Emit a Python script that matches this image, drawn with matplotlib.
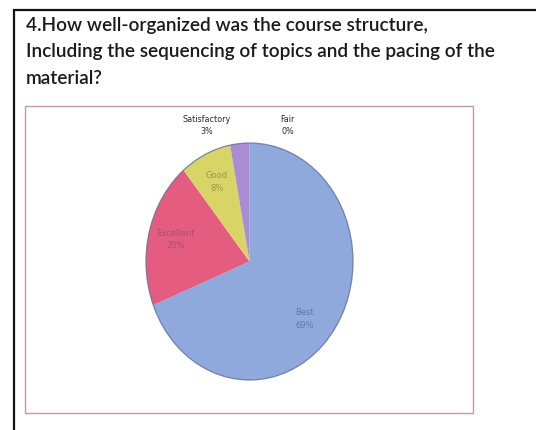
import numpy as np
import matplotlib
matplotlib.use("Agg")
import matplotlib.pyplot as plt
from matplotlib.patches import Rectangle, Ellipse

# Survey responses for question 4
categories = ["Best", "Excellent", "Good", "Satisfactory", "Fair"]
percentages = [69, 20, 8, 3, 0]
colors = ["#8FA9DD", "#E45C80", "#D9D466", "#A98CD4", "#F2C6A0"]

title_lines = [
    "4.How well-organized was the course structure,",
    "Including the sequencing of topics and the pacing of the",
    "material?",
]

W, H = 536, 430
fig = plt.figure(figsize=(W / 100, H / 100), dpi=100)
fig.patch.set_facecolor("white")

def fx(px):
    return px / W

def fy(py):
    return 1 - py / H

# Outer document frame
fig.add_artist(Rectangle((fx(14), fy(440)), fx(540) - fx(14), fy(10) - fy(440),
                         transform=fig.transFigure, fill=False,
                         edgecolor="#111111", linewidth=1.6))

# Question text
for i, line in enumerate(title_lines):
    fig.text(fx(26), fy(25 + i * 26.5), line, ha="left", va="center",
             fontsize=13.7, fontweight="semibold", family="Lato", color="#1a1a1a")

# Chart area frame
fig.add_artist(Rectangle((fx(25), fy(413)), fx(473) - fx(25), fy(106) - fy(413),
                         transform=fig.transFigure, fill=False,
                         edgecolor="#C29C9C", linewidth=1.0))

# Pie axes (drawn slightly taller than wide)
ax = fig.add_axes([fx(146), fy(380), fx(353) - fx(146), fy(143) - fy(380)])
wedges, _ = ax.pie(percentages, colors=colors, startangle=90, counterclock=False,
                   radius=1.0, wedgeprops=dict(linewidth=0))
ax.set_aspect("auto")
ax.set_xlim(-1.0, 1.0)
ax.set_ylim(-1.0, 1.0)
ax.axis("off")
for w in wedges:
    w.set_clip_on(False)

# Darker outer rim
ax.add_patch(Ellipse((0, 0), 2.0, 2.0, fill=False, edgecolor="#5D6F9E",
                     linewidth=0.9, alpha=0.8, clip_on=False))

# Labels inside the larger slices
inside = {"Best": ("#5E6F92", 0.72, -8), "Excellent": ("#A04A78", 0.74, 0),
          "Good": ("#8E8A4A", 0.74, 0)}
for w, name, pct in zip(wedges, categories, percentages):
    if name in inside:
        col, r, shift = inside[name]
        mid = np.deg2rad((w.theta1 + w.theta2) / 2 + shift)
        ax.text(r * np.cos(mid), r * np.sin(mid), f"{name}\n{pct}%",
                ha="center", va="center", fontsize=6, color=col,
                family="DejaVu Sans", linespacing=1.5, alpha=0.85)

# Labels above the pie for the thin slices
ax.text(-0.41, 1.15, f"Satisfactory\n{percentages[3]}%", ha="center", va="center",
        fontsize=5.8, color="#2a2a2a", linespacing=1.4, clip_on=False)
ax.text(0.37, 1.15, f"Fair\n{percentages[4]}%", ha="center", va="center",
        fontsize=5.8, color="#2a2a2a", linespacing=1.4, clip_on=False)

fig.savefig("out.png", dpi=100, facecolor="white")
